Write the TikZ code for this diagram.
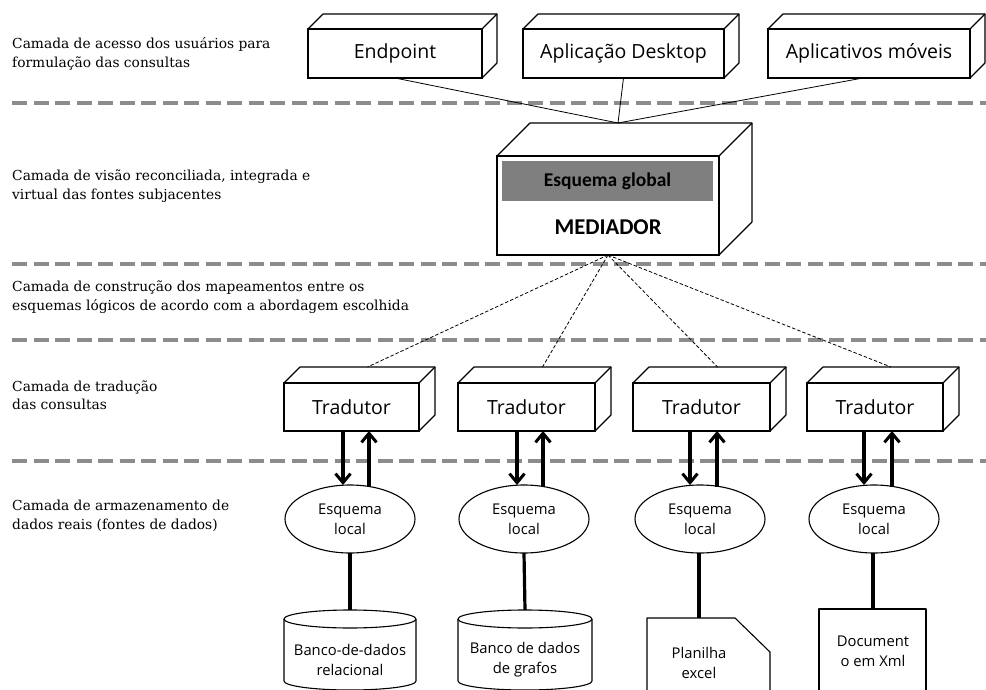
\documentclass[tikz,border=0pt]{standalone}
\usepackage{fontspec}
\setmainfont{Open Sans}
\newfontfamily\layerfont{DejaVu Serif}
\newfontfamily\medfont{Carlito}
\usetikzlibrary{arrows.meta,shapes.geometric,calc}
\definecolor{sepgray}{HTML}{8C8C8C}
\definecolor{barfill}{HTML}{7F7F7F}

\tikzset{
  sep/.style={draw=sepgray, line width=3.5pt, dash pattern=on 15pt off 6.5pt},
  layer/.style={anchor=west, align=left, inner sep=0pt,
    font=\layerfont\fontsize{13.8}{18.5}\selectfont},
  front/.style={draw, line width=1.1pt, fill=white, inner sep=0pt, outer sep=0pt,
    font=\fontsize{19.5}{23}\selectfont},
  edge3d/.style={line width=1.1pt, line join=round},
  link/.style={line width=0.8pt},
  maplink/.style={line width=0.8pt, dash pattern=on 3.5pt off 2pt},
  flow/.style={line width=3.2pt, -{Straight Barb[length=9pt,width=15pt,line width=3pt]}},
  schema/.style={ellipse, draw, line width=1.1pt, minimum width=130pt,
    minimum height=68pt, inner sep=0pt, outer sep=0pt, align=center,
    font=\fontsize{14.8}{20}\selectfont},
  stem/.style={line width=3.2pt},
  store/.style={line width=1.1pt, line join=round},
  storelabel/.style={align=center, inner sep=0pt,
    font=\fontsize{14.8}{20}\selectfont},
}

% top and right faces of a box whose front face is node #1, depth #2
\newcommand\cuboidfaces[2]{%
  \draw[edge3d] (#1.north west) -- ++(#2,#2) -| ($(#1.south east)+(#2,#2)$) -- (#1.south east);
  \draw[edge3d] (#1.north east) -- ++(#2,#2);
  \coordinate (#1-back) at ($(#1.north)+(#2,#2)$);
}

% database cylinder: centre x, half width, top ellipse y, bottom ellipse y
\newcommand\dbcylinder[4]{%
  \draw[store] (#1-#2,#3) -- (#1-#2,#4)
    arc[start angle=180, end angle=360, x radius=#2, y radius=9] -- (#1+#2,#3);
  \draw[store] (#1,#3) ellipse[x radius=#2, y radius=9];
}

\begin{document}
\begin{tikzpicture}[x=1pt, y=1pt]
\useasboundingbox (0,0) rectangle (986,-690);

% layer separators
\foreach \yy in {103,264,340,461}
  \draw[sep] (12,-\yy) -- (986,-\yy);

% layer captions
\node[layer] (cap1) at (12,-54)  {Camada de acesso dos usuários para\\formulação das consultas};
\node[layer] (cap2) at (12,-186) {Camada de visão reconciliada, integrada e\\virtual das fontes subjacentes};
\node[layer] (cap3) at (12,-297) {Camada de construção dos mapeamentos entre os\\esquemas lógicos de acordo com a abordagem escolhida};
\node[layer] (cap4) at (12,-395) {Camada de tradução\\das consultas};
\node[layer] (cap5) at (12,-516) {Camada de armazenamento de\\dados reais (fontes de dados)};

% client applications
\node[front, minimum width=174pt, minimum height=49pt] (ep) at (395,-53.5)   {Endpoint};
\node[front, minimum width=201pt, minimum height=49pt] (dk) at (623.5,-53.5) {Aplicação Desktop};
\node[front, minimum width=202pt, minimum height=49pt] (mb) at (869,-53.5)   {Aplicativos móveis};
\cuboidfaces{ep}{15}
\cuboidfaces{dk}{15}
\cuboidfaces{mb}{15}

% mediator
\node[front, minimum width=222pt, minimum height=99pt] (med) at (608,-205.5) {};
\cuboidfaces{med}{33}
\node[fill=barfill, minimum width=211pt, minimum height=40pt, inner sep=0pt,
      font=\medfont\bfseries\fontsize{19.5}{22}\selectfont] (gs) at (607.5,-181) {Esquema global};
\node[inner sep=0pt, font=\medfont\bfseries\fontsize{22.6}{26}\selectfont] (medlabel) at (608,-227) {MEDIADOR};
\coordinate (medtop) at (618,-123);

\draw[link] (ep.south) -- (medtop);
\draw[link] (dk.south) -- (medtop);
\draw[link] ([xshift=-6pt]mb.south) -- (medtop);

% translators
\node[front, minimum width=135pt, minimum height=48pt] (t1) at (351.5,-407) {Tradutor};
\node[front, minimum width=137pt, minimum height=48pt] (t2) at (526.5,-407) {Tradutor};
\node[front, minimum width=137pt, minimum height=48pt] (t3) at (701.5,-407) {Tradutor};
\node[front, minimum width=136pt, minimum height=48pt] (t4) at (875,-407)   {Tradutor};
\foreach \t in {t1,t2,t3,t4} { \cuboidfaces{\t}{16} }

\foreach \t in {t1,t2,t3,t4}
  \draw[maplink] (med.south) -- (\t-back);

% local schemas
\node[schema] (e1) at (350,-519) {Esquema\\local};
\node[schema] (e2) at (524,-519) {Esquema\\local};
\node[schema] (e3) at (700,-519) {Esquema\\local};
\node[schema] (e4) at (874,-519) {Esquema\\local};

% query / result flows between translators and schemas
\foreach \t/\e/\dn/\up in {t1/e1/-7/19, t2/e2/-7/19, t3/e3/-10/17, t4/e4/-10/18} {
  \coordinate (\e-in)  at ($(\e.north)+(\dn,0)$);
  \coordinate (\e-out) at ($(\e.north)+(\up,-1.5)$);
  \draw[flow] (\e-in |- \t.south) -- (\e-in);
  \draw[flow] (\e-out) -- (\e-out |- \t.south);
}

% data sources
\dbcylinder{350}{66}{-619}{-681}
\dbcylinder{525}{67}{-619}{-681}
\coordinate (db1) at (350,-610);
\coordinate (db2) at (525,-610);
\node[storelabel] (db1label) at (350,-660) {Banco-de-dados\\relacional};
\node[storelabel] (db2label) at (525,-660) {Banco de dados\\de grafos};

\draw[store] (647,-694) -- (647,-618) -- (735,-618) -- (770,-652) -- (770,-694);
\coordinate (xl) at (699,-618);
\node[storelabel] (xllabel) at (699,-663) {Planilha\\excel};

\draw[store] (819,-694) -- (819,-609) -- (926,-609) -- (926,-694);
\coordinate (xm) at (873,-609);
\node[storelabel] (xmlabel) at (873,-651) {Document\\o em Xml};

\draw[stem] (e1.south) -- (db1);
\draw[stem] (e2.south) -- (db2);
\draw[stem] (e3.south -| xl) -- (xl);
\draw[stem] (e4.south -| xm) -- (xm);
\end{tikzpicture}
\end{document}
